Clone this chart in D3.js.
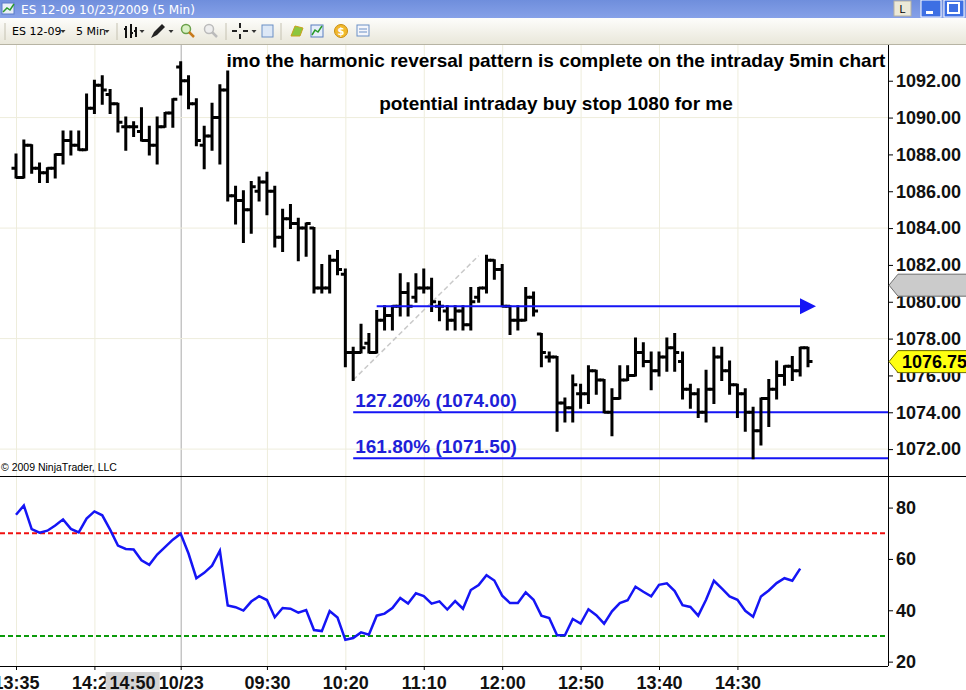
<!DOCTYPE html>
<html>
<head>
<meta charset="utf-8">
<script src="https://cdn.jsdelivr.net/npm/d3@7"></script>
<style>
  body { margin: 0; background: #fff; overflow: hidden; }
  svg { display: block; font-family: "Liberation Sans", Arial, sans-serif; }
</style>
</head>
<body>
<script>
// ---- data ----
// bars: 10/22 13:35-15:15, then 10/23 08:35-15:15
function sessionKeys(day, from, to) {
  let out = [];
  let [h, m] = from.split(":").map(Number);
  const [h2, m2] = to.split(":").map(Number);
  while (h * 60 + m <= h2 * 60 + m2) {
    out.push(day + " " + String(h).padStart(2, "0") + ":" + String(m).padStart(2, "0"));
    m += 5; if (m >= 60) { m -= 60; h++; }
  }
  return out;
}
const barKeys = sessionKeys("22", "13:35", "15:15").concat(sessionKeys("23", "08:35", "15:15"));

const opens = [
  1087.25,1086.75,1088.5,1087.25,1087.0,1087.25,1088.0,1088.75,1088.5,1088.25,
  1090.5,1091.75,1091.25,1090.75,1089.5,1089.5,1089.25,1088.75,1088.5,1089.5,
  1090.25,1092.75,1092.0,1090.75,1088.5,1089.0,1090.0,1091.5,1085.75,1085.5,
  1085.0,1086.0,1086.5,1086.0,1083.5,1084.5,1084.25,1084.0,1084.0,1080.75,
  1080.75,1082.25,1081.5,1077.25,1077.25,1077.75,1077.25,1079.0,1079.25,1079.75,
  1080.5,1080.25,1080.75,1080.75,1079.75,1079.5,1079.0,1079.5,1078.75,1080.25,
  1080.75,1082.25,1081.75,1079.75,1079.0,1079.0,1080.25,1078.25,1077.0,1077.0,
  1074.5,1074.25,1075.0,1075.0,1076.25,1075.75,1074.0,1074.75,1075.75,1076.0,
  1077.25,1076.75,1076.25,1077.0,1077.5,1076.75,1075.25,1075.0,1074.0,1075.25,
  1077.0,1076.25,1075.5,1075.0,1074.0,1073.0,1074.75,1075.25,1076.0,1076.5,
  1076.25,1077.5
];
const highs = [
  1088.0,1088.75,1088.5,1087.5,1087.25,1088.0,1089.25,1089.25,1089.25,1091.25,
  1092.0,1092.25,1091.5,1090.75,1090.0,1089.75,1090.5,1089.5,1090.0,1090.25,
  1091.0,1093.0,1092.25,1091.0,1089.5,1090.75,1091.75,1092.5,1086.25,1086.0,
  1086.5,1086.75,1087.0,1086.25,1085.0,1085.25,1084.5,1084.25,1084.0,1082.0,
  1082.5,1082.75,1081.75,1077.5,1078.75,1078.25,1079.5,1079.75,1079.75,1081.5,
  1081.0,1081.5,1081.75,1081.25,1080.0,1079.75,1079.75,1079.75,1080.75,1080.75,
  1082.5,1082.25,1082.0,1079.75,1079.75,1080.75,1080.5,1078.25,1077.25,1077.0,
  1074.75,1076.0,1075.5,1076.5,1076.25,1075.75,1075.25,1076.5,1076.5,1078.0,
  1077.75,1077.25,1077.25,1078.0,1078.25,1077.25,1075.5,1075.25,1076.25,1077.5,
  1077.5,1076.75,1075.5,1075.25,1074.25,1074.75,1075.75,1076.75,1076.5,1077.0,
  1077.5,1077.5
];
const lows = [
  1086.75,1086.75,1087.0,1086.5,1086.5,1086.75,1087.5,1088.0,1088.25,1088.25,
  1090.25,1090.75,1090.25,1089.25,1088.25,1089.0,1088.75,1088.0,1087.5,1089.5,
  1089.5,1091.25,1090.5,1088.5,1087.25,1088.25,1087.5,1085.5,1084.25,1083.25,
  1083.75,1085.5,1084.75,1083.0,1082.75,1084.0,1082.25,1082.5,1080.5,1080.5,
  1080.5,1081.5,1076.5,1075.75,1077.25,1077.25,1077.25,1078.5,1078.5,1079.25,
  1079.25,1080.0,1080.5,1079.5,1079.0,1078.5,1078.5,1078.5,1078.5,1080.0,
  1080.5,1081.25,1079.75,1078.25,1078.5,1079.0,1079.25,1076.5,1076.75,1073.0,
  1073.5,1073.5,1074.25,1074.5,1075.0,1074.0,1072.75,1074.75,1075.75,1076.0,
  1076.5,1075.25,1076.0,1076.25,1076.25,1074.75,1074.25,1073.75,1073.5,1074.5,
  1075.75,1075.0,1073.75,1073.0,1071.5,1072.25,1073.25,1074.75,1075.5,1075.75,
  1076.0,1076.5
];
const closes = [
  1086.75,1088.5,1087.25,1087.0,1087.25,1088.0,1088.75,1088.5,1088.25,1090.5,
  1091.75,1091.5,1090.75,1089.75,1089.5,1089.5,1088.75,1088.5,1089.5,1090.25,
  1091.0,1092.0,1090.75,1088.75,1089.0,1090.0,1091.5,1085.75,1085.5,1085.0,
  1086.25,1086.5,1086.0,1083.5,1084.5,1084.25,1084.0,1084.25,1080.75,1080.75,
  1082.25,1081.75,1077.25,1077.25,1077.5,1077.25,1079.0,1079.25,1079.75,1080.5,
  1079.75,1080.75,1080.75,1080.0,1079.75,1079.0,1079.5,1078.75,1080.0,1080.75,
  1082.25,1081.75,1079.75,1079.0,1079.0,1080.25,1079.5,1077.25,1077.0,1074.5,
  1074.25,1075.5,1075.0,1076.25,1075.75,1074.0,1074.75,1075.75,1076.0,1077.25,
  1076.75,1076.25,1077.0,1077.5,1077.25,1075.25,1075.0,1074.0,1075.25,1077.0,
  1076.25,1075.5,1075.0,1074.0,1073.0,1074.75,1075.25,1076.0,1076.5,1076.25,
  1077.5,1076.75
];
// RSI, one point per closed bar (the forming last bar has none)
const rsi = [
  77.2,80.8,71.6,70.2,71.0,73.0,75.4,71.7,70.3,75.7,
  78.5,77.0,71.4,65.2,63.9,63.7,59.5,57.7,61.7,64.6,
  67.5,69.8,62.1,52.5,54.6,57.4,63.2,41.9,41.2,39.9,
  43.4,45.5,44.0,37.3,40.9,40.6,39.1,40.1,32.3,31.9,
  39.7,37.2,28.5,29.2,31.4,30.5,37.9,38.7,40.9,44.8,
  42.6,46.6,45.5,42.6,43.5,40.3,43.6,40.6,47.9,49.8,
  53.7,51.6,45.7,42.8,42.8,47.0,44.1,37.9,37.0,30.3,
  30.3,36.6,34.8,40.4,38.1,34.8,39.6,42.8,43.9,49.2,
  47.2,45.4,49.9,50.5,47.5,42.0,41.3,37.9,44.1,51.5,
  48.5,45.4,44.1,39.8,37.5,45.4,47.7,50.6,52.5,51.5,
  56.2
];

const tickKeys = ["22 13:35","22 14:25","23 08:35","23 09:30","23 10:20","23 11:10","23 12:00","23 12:50","23 13:40","23 14:30"];
const tickText = ["13:35","14:25","10/23","09:30","10:20","11:10","12:00","12:50","13:40","14:30"];
const cursorKey = "22 14:50", cursorText = "14:50";
const priceTicks = [1072,1074,1076,1078,1080,1082,1084,1086,1088,1090,1092];
const priceGrid = [1072,1078,1084,1090];
const rsiTicks = [20,40,60,80];
const rsiLevels = [70,30];

const fibLevels = [1074.0, 1071.5];
const fibLabels = ["127.20% (1074.00)", "161.80% (1071.50)"];
const fibStartKey = "23 10:25";
const buyStop = 1079.75, buyStartKey = "23 10:40";
const legFrom = {key: "23 10:25", price: 1075.75}, legTo = {key: "23 11:45", price: 1082.5};
const lastPrice = 1076.75, grayMarkPrice = 1080.9;

const note1 = "imo the harmonic reversal pattern is complete on the intraday 5min chart";
const note2 = "potential intraday buy stop 1080 for me";

// ---- layout ----
const W = 966, H = 690;
const axisX = 888, priceTop = 45, sepY = 476, bottomY = 666;

const svg = d3.select("body").append("svg").attr("width", W).attr("height", H);

const x = d3.scalePoint().domain(barKeys).range([16, 808]);
const yP = d3.scaleLinear().domain([1070.54, 1093.94]).range([sepY, priceTop]);
const yR = d3.scaleLinear().domain([18.3, 92.3]).range([bottomY, sepY]);

// window title bar
const grad = svg.append("defs");
const tg = grad.append("linearGradient").attr("id", "tbar").attr("x1", 0).attr("y1", 0).attr("x2", 0).attr("y2", 1);
tg.append("stop").attr("offset", "0").attr("stop-color", "#6f8edc");
tg.append("stop").attr("offset", "1").attr("stop-color", "#86a1e8");
const tb = grad.append("linearGradient").attr("id", "tool").attr("x1", 0).attr("y1", 0).attr("x2", 0).attr("y2", 1);
tb.append("stop").attr("offset", "0").attr("stop-color", "#fdfdfb");
tb.append("stop").attr("offset", "1").attr("stop-color", "#e9e7da");

svg.append("rect").attr("width", W).attr("height", 18).attr("fill", "url(#tbar)");
svg.append("rect").attr("x", 2).attr("y", 3).attr("width", 12).attr("height", 11).attr("fill", "#e8eef8").attr("stroke", "#5a7bc8");
svg.append("path").attr("d", "M3,12 L7,8 L10,10 L14,4").attr("fill", "none").attr("stroke", "#2a9a2a").attr("stroke-width", 1.5);
svg.append("text").attr("x", 21).attr("y", 14).attr("fill", "#fff")
   .attr("textLength", 174).attr("lengthAdjust", "spacingAndGlyphs")
   .style("font-family", "'DejaVu Sans', sans-serif").style("font-size", "13px")
   .text("ES 12-09  10/23/2009 (5 Min)");
svg.append("rect").attr("x", 894).attr("y", 1).attr("width", 17).attr("height", 15).attr("fill", "#ece9d8").attr("stroke", "#b5b2a2");
svg.append("text").attr("x", 902.5).attr("y", 13).attr("text-anchor", "middle").style("font-size", "11px").text("L");
[921, 944].forEach((bx, i) => {
  svg.append("rect").attr("x", bx).attr("y", 0).attr("width", 20).attr("height", 17).attr("fill", "#3d6fe3").attr("stroke", "#fff").attr("stroke-width", 1);
  if (i == 0) svg.append("rect").attr("x", bx + 5).attr("y", 11).attr("width", 7).attr("height", 3).attr("fill", "#fff");
  else svg.append("rect").attr("x", bx + 4).attr("y", 3).attr("width", 11).attr("height", 10).attr("fill", "none").attr("stroke", "#fff").attr("stroke-width", 2);
});

// toolbar
svg.append("rect").attr("y", 18).attr("width", W).attr("height", 26).attr("fill", "url(#tool)");
svg.append("line").attr("x1", 0).attr("x2", W).attr("y1", 44.5).attr("y2", 44.5).attr("stroke", "#b7b4a4");
const tool = svg.append("g").style("font-size", "11px").style("font-family", "'DejaVu Sans', sans-serif");
[5, 117, 226, 281].forEach(sx => tool.append("line").attr("x1", sx).attr("x2", sx).attr("y1", 23).attr("y2", 40).attr("stroke", "#c5c2b2"));
tool.append("text").attr("x", 12).attr("y", 35).text("ES 12-09");
tool.append("text").attr("x", 76).attr("y", 35).text("5 Min");
[63, 107, 142, 171, 254].forEach(ax => tool.append("path").attr("d", `M${ax - 2.5},30 h5 l-2.5,3 z`).attr("fill", "#333"));
tool.append("path").attr("d", "M126,26 v12 M124,29 h2 M131,24 v14 M131,33 h2 M136,27 v10 M134,31 h2")
    .attr("stroke", "#111").attr("stroke-width", 2).attr("fill", "none");
tool.append("path").attr("d", "M151,38 l3,-6 l8,-8 l3,3 l-8,8 z").attr("fill", "#222");
tool.append("circle").attr("cx", 186).attr("cy", 29).attr("r", 4.5).attr("fill", "#d9f0c4").attr("stroke", "#6aa04a").attr("stroke-width", 1.5);
tool.append("path").attr("d", "M189,32 l5,5").attr("stroke", "#c87a1c").attr("stroke-width", 2.5);
tool.append("circle").attr("cx", 209).attr("cy", 29).attr("r", 4.5).attr("fill", "#eee").attr("stroke", "#bbb").attr("stroke-width", 1.5);
tool.append("path").attr("d", "M212,32 l5,5").attr("stroke", "#bbb").attr("stroke-width", 2.5);
tool.append("path").attr("d", "M232,31 h5 M243,31 h5 M240,23 v5 M240,34 v5").attr("stroke", "#222").attr("stroke-width", 2);
tool.append("rect").attr("x", 262).attr("y", 25).attr("width", 11).attr("height", 12).attr("fill", "#dde8f6").attr("stroke", "#6a8fc5");
tool.append("path").attr("d", "M291,36 l4,-10 l8,2 l-3,8 z").attr("fill", "#8cc63f").attr("stroke", "#c9a21a");
tool.append("rect").attr("x", 311).attr("y", 25).attr("width", 12).attr("height", 12).attr("fill", "#e6eefa").attr("stroke", "#5a7fc0");
tool.append("path").attr("d", "M312,35 l3,-5 l3,2 l4,-6").attr("fill", "none").attr("stroke", "#2a9a2a").attr("stroke-width", 1.5);
tool.append("circle").attr("cx", 341).attr("cy", 31).attr("r", 6.5).attr("fill", "#f1b82d").attr("stroke", "#c98e12");
tool.append("text").attr("x", 341).attr("y", 35).attr("text-anchor", "middle").attr("fill", "#fff").style("font-size", "10px").style("font-weight", "bold").text("$");
tool.append("rect").attr("x", 357).attr("y", 25).attr("width", 12).attr("height", 11).attr("fill", "#f4f6fb").attr("stroke", "#6a8fc5");
tool.append("path").attr("d", "M359,29 h8 M359,32 h8").attr("stroke", "#6a8fc5");

// chart background
svg.append("rect").attr("y", priceTop).attr("width", W).attr("height", H - priceTop).attr("fill", "#fff");

svg.append("clipPath").attr("id", "pclip").append("rect").attr("x", 0).attr("y", priceTop).attr("width", axisX).attr("height", sepY - priceTop);
svg.append("clipPath").attr("id", "rclip").append("rect").attr("x", 0).attr("y", sepY).attr("width", axisX).attr("height", bottomY - sepY);

// grid
const grid = svg.append("g");
grid.selectAll(".vg").data(tickKeys).enter().append("line")
    .attr("x1", d => x(d) + 0.5).attr("x2", d => x(d) + 0.5)
    .attr("y1", priceTop).attr("y2", bottomY)
    .attr("stroke", d => d == "23 08:35" ? "#a9a9a9" : "#eeeddc").attr("stroke-width", 1);
grid.selectAll(".hg").data(priceGrid).enter().append("line")
    .attr("x1", 0).attr("x2", axisX).attr("y1", d => yP(d)).attr("y2", d => yP(d))
    .attr("stroke", "#eeeddc");

// price panel
const pg = svg.append("g").attr("clip-path", "url(#pclip)");

pg.selectAll(".fib").data(fibLevels).enter().append("line")
  .attr("x1", x(fibStartKey)).attr("x2", axisX)
  .attr("y1", d => yP(d)).attr("y2", d => yP(d))
  .attr("stroke", "#1515f5").attr("stroke-width", 2);
pg.selectAll(".fibt").data(fibLabels).enter().append("text")
  .attr("x", x(fibStartKey) + 2).attr("y", (d, i) => yP(fibLevels[i]) - 5)
  .attr("fill", "#1f1fd8").style("font-weight", "bold").style("font-size", "19px")
  .text(d => d);

pg.append("line")
  .attr("x1", x(legFrom.key)).attr("y1", yP(legFrom.price))
  .attr("x2", x(legTo.key)).attr("y2", yP(legTo.price))
  .attr("stroke", "#c9c9c9").attr("stroke-width", 1.5).attr("stroke-dasharray", "5,3");

const bars = barKeys.map((k, i) => ({k, o: opens[i], h: highs[i], l: lows[i], c: closes[i]}));
pg.selectAll(".bar").data(bars).enter().append("path")
  .attr("d", d => {
    const bx = x(d.k);
    return `M${bx},${yP(d.h) - 1}V${yP(d.l) + 1}M${bx - 4.5},${yP(d.o)}H${bx}M${bx},${yP(d.c)}H${bx + 4.5}`;
  })
  .attr("fill", "none").attr("stroke", "#000").attr("stroke-width", 3);

const arrowEnd = 800;
pg.append("line").attr("x1", x(buyStartKey)).attr("x2", arrowEnd)
  .attr("y1", yP(buyStop)).attr("y2", yP(buyStop))
  .attr("stroke", "#1515f5").attr("stroke-width", 2);
pg.append("path")
  .attr("d", `M${arrowEnd},${yP(buyStop) - 8}L${arrowEnd + 16},${yP(buyStop)}L${arrowEnd},${yP(buyStop) + 8}Z`)
  .attr("fill", "#1515f5");

pg.append("text").attr("x", 556).attr("y", 67).attr("text-anchor", "middle")
  .style("font-weight", "bold").style("font-size", "19px").text(note1);
pg.append("text").attr("x", 556).attr("y", 110).attr("text-anchor", "middle")
  .style("font-weight", "bold").style("font-size", "19px").text(note2);

svg.append("text").attr("x", 1).attr("y", 471).style("font-size", "10.5px").text("\u00a9 2009 NinjaTrader, LLC");

// RSI panel
const rg = svg.append("g").attr("clip-path", "url(#rclip)");
rg.selectAll(".lvl").data(rsiLevels).enter().append("line")
  .attr("x1", 0).attr("x2", axisX).attr("y1", d => yR(d)).attr("y2", d => yR(d))
  .attr("stroke", d => d > 50 ? "#f01010" : "#0a9a0a").attr("stroke-width", 2).attr("stroke-dasharray", "5,3");
rg.append("path").datum(rsi)
  .attr("d", d3.line().x((d, i) => x(barKeys[i])).y(d => yR(d)))
  .attr("fill", "none").attr("stroke", "#1515f5").attr("stroke-width", 2.5);

// frame lines
svg.append("line").attr("x1", 0).attr("x2", W).attr("y1", sepY + 0.5).attr("y2", sepY + 0.5).attr("stroke", "#000");
svg.append("line").attr("x1", axisX + 0.5).attr("x2", axisX + 0.5).attr("y1", priceTop).attr("y2", bottomY).attr("stroke", "#000");
svg.append("line").attr("x1", 0).attr("x2", axisX).attr("y1", bottomY + 0.5).attr("y2", bottomY + 0.5).attr("stroke", "#000");

// axes
function styleAxis(g) {
  g.select(".domain").remove();
  g.selectAll("text").style("font-size", "18px").style("font-weight", "bold").attr("fill", "#111");
  g.selectAll("line").attr("stroke", "#000");
}
svg.append("g").attr("transform", `translate(${axisX},0)`)
   .call(d3.axisRight(yP).tickValues(priceTicks).tickFormat(d3.format(".2f")).tickSize(5).tickPadding(3))
   .call(styleAxis);
svg.append("g").attr("transform", `translate(${axisX},0)`)
   .call(d3.axisRight(yR).tickValues(rsiTicks).tickFormat(d3.format("d")).tickSize(5).tickPadding(3))
   .call(styleAxis);
const xa = svg.append("g").attr("transform", `translate(0,${bottomY})`)
   .call(d3.axisBottom(x).tickValues(tickKeys).tickFormat(k => tickText[tickKeys.indexOf(k)]).tickSize(4).tickPadding(6))
   .call(styleAxis);

// crosshair time label
const cx = x(cursorKey);
svg.append("rect").attr("x", cx - 28).attr("y", 672).attr("width", 54).attr("height", 18).attr("fill", "#d3d3d3");
svg.append("text").attr("x", cx - 1).attr("y", 689).attr("text-anchor", "middle")
   .style("font-size", "18px").style("font-weight", "bold").attr("fill", "#111").text(cursorText);

// right-axis markers
function marker(price, fill, stroke, label) {
  const my = yP(price);
  svg.append("path")
     .attr("d", `M${axisX + 1},${my}L${axisX + 10},${my - 11}H${W + 2}V${my + 11}H${axisX + 10}Z`)
     .attr("fill", fill).attr("stroke", stroke);
  if (label) svg.append("text").attr("x", axisX + 14).attr("y", my + 6.5)
     .style("font-size", "18px").style("font-weight", "bold").attr("fill", "#000").text(label);
}
marker(grayMarkPrice, "#cbcbcb", "#6e6e6e", "");
marker(lastPrice, "#ffff10", "#6e6e00", d3.format(".2f")(lastPrice));
</script>
</body>
</html>
